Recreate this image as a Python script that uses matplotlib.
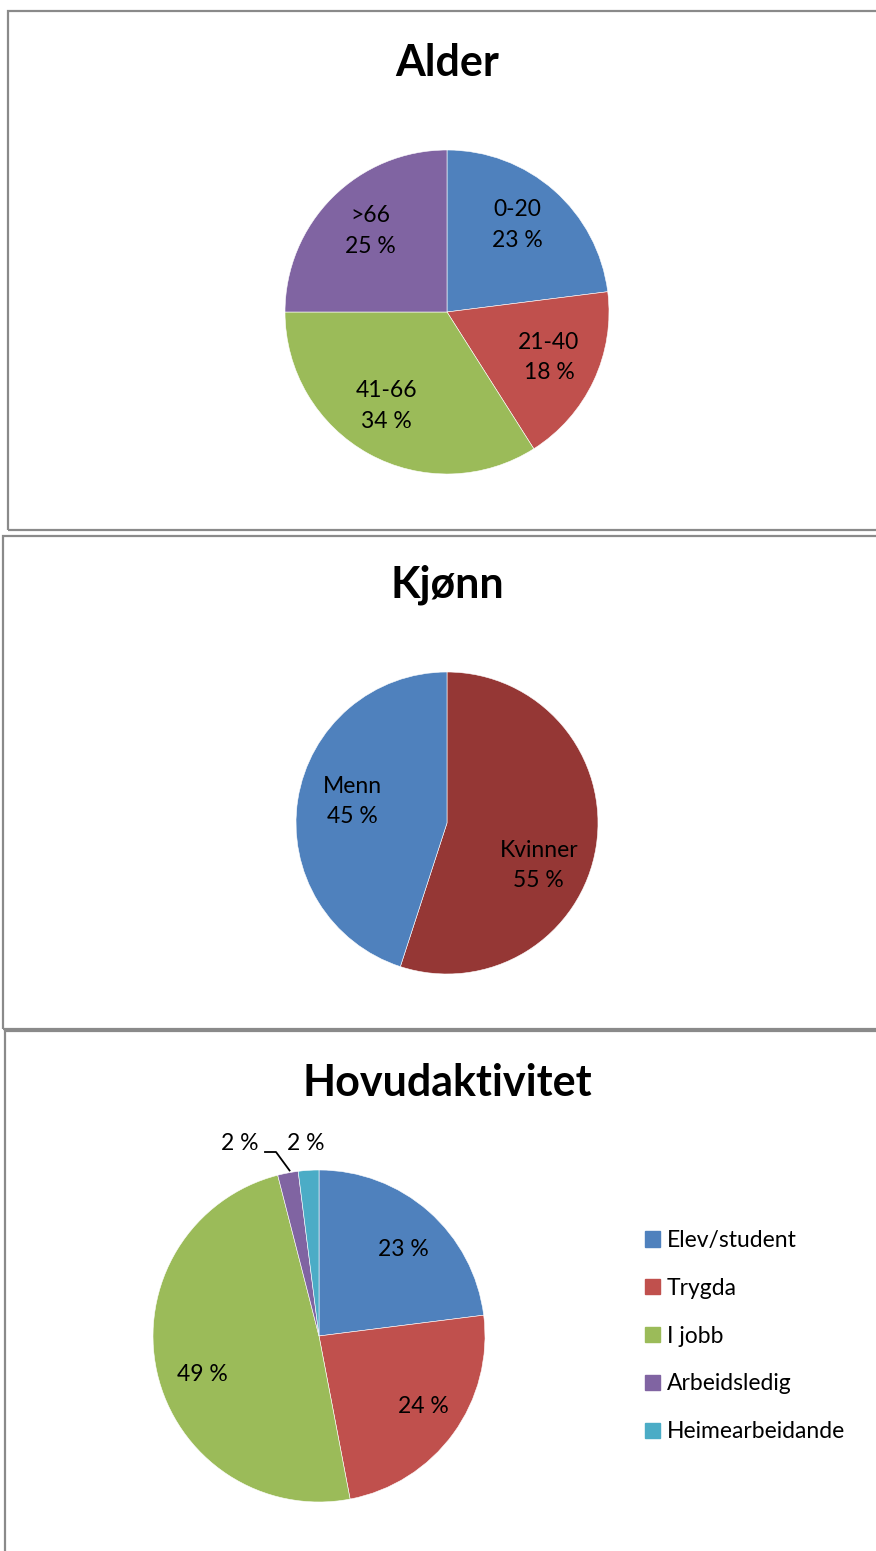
import matplotlib
matplotlib.use("Agg")
import matplotlib.pyplot as plt
from matplotlib.patches import Rectangle
import numpy as np

plt.rcParams['font.family'] = ['Lato', 'DejaVu Sans']

# ---- data ----
age_labels = ['0-20', '21-40', '41-66', '>66']
age_values = [23, 18, 34, 25]
gender_labels = ['Kvinner', 'Menn']
gender_values = [55, 45]
act_labels = ['Elev/student', 'Trygda', 'I jobb', 'Arbeidsledig', 'Heimearbeidande']
act_values = [23, 24, 49, 2, 2]

BLUE, RED, GREEN, PURPLE, CYAN, DRED = '#4F81BD', '#C0504D', '#9BBB59', '#8064A2', '#4BACC6', '#953735'

W, H = 876, 1551
fig = plt.figure(figsize=(W / 100, H / 100), dpi=100)
LFS = 16.5
TFS = 31

def px_axes(cx, cy, r):
    ax = fig.add_axes([(cx - r) / W, (H - cy - r) / H, 2 * r / W, 2 * r / H])
    return ax

def border(x0, y0, x1, y1):
    fig.patches.append(Rectangle((x0 / W, 1 - y1 / H), (x1 - x0) / W, (y1 - y0) / H,
                                 transform=fig.transFigure, fill=False,
                                 edgecolor='#8a8a8a', linewidth=1.6))

border(8, 11, 900, 530)
border(3, 536, 900, 1029)
border(5, 1031, 900, 1600)

def draw_pie(ax, vals, colors):
    wedges, _ = ax.pie(vals, colors=colors, startangle=90, counterclock=False,
                       radius=1, wedgeprops=dict(linewidth=0.4, edgecolor='white'))
    ax.set_aspect('auto')
    ax.set_xlim(-1, 1); ax.set_ylim(-1, 1); ax.axis('off')
    return wedges

def label_at(ax, wedge, text, dist, dang=0.0, **kw):
    ang = np.deg2rad((wedge.theta1 + wedge.theta2) / 2 + dang)
    ax.text(dist * np.cos(ang), dist * np.sin(ang), text, ha='center', va='center',
            fontsize=LFS, linespacing=1.55, clip_on=False, **kw)

# ---- Alder ----
fig.text(447 / W, 1 - 63 / H, 'Alder', ha='center', va='center', fontsize=TFS, fontweight='bold')
ax1 = px_axes(447, 312, 162)
w1 = draw_pie(ax1, age_values, [BLUE, RED, GREEN, PURPLE])
adj1 = [2.5, 1, -4, -1.5]
for w, lab, v, d in zip(w1, age_labels, age_values, adj1):
    label_at(ax1, w, f'{lab}\n{v} %', 0.69, d)

# ---- Kjønn ----
fig.text(447 / W, 1 - 585 / H, 'Kjønn', ha='center', va='center', fontsize=TFS, fontweight='bold')
ax2 = px_axes(447, 823, 151)
w2 = draw_pie(ax2, gender_values, [DRED, BLUE])
adj2 = [-16, -4]
dist2 = [0.67, 0.64]
for w, lab, v, d, r in zip(w2, gender_labels, gender_values, adj2, dist2):
    label_at(ax2, w, f'{lab}\n{v} %', r, d)

# ---- Hovudaktivitet ----
fig.text(447 / W, 1 - 1083 / H, 'Hovudaktivitet', ha='center', va='center', fontsize=TFS, fontweight='bold')
R3 = 166
ax3 = px_axes(319, 1336, R3)
w3 = draw_pie(ax3, act_values, [BLUE, RED, GREEN, PURPLE, CYAN])
adj3 = [-3, 2, 5.5]
dist3 = [0.73, 0.76, 0.74]
for w, v, d, r in zip(w3[:3], act_values[:3], adj3, dist3):
    label_at(ax3, w, f'{v} %', r, d)
# small slices: labels outside
ax3.text(-79 / R3, 192 / R3, f'{act_values[3]} %', ha='center', va='center', fontsize=LFS, clip_on=False)
ax3.text(-13 / R3, 192 / R3, f'{act_values[4]} %', ha='center', va='center', fontsize=LFS, clip_on=False)
mid = np.deg2rad((w3[3].theta1 + w3[3].theta2) / 2)
ex, ey = np.cos(mid) * 1.0, np.sin(mid) * 1.0
ax3.plot([-54 / R3, -43 / R3, ex + 0.01], [184 / R3, 184 / R3, ey + 0.015], color='black',
         linewidth=1.3, clip_on=False)

# legend
handles = [Rectangle((0, 0), 1, 1, color=c) for c in [BLUE, RED, GREEN, PURPLE, CYAN]]
fig.legend(handles, act_labels, loc='upper left', bbox_to_anchor=(645 / W, 1 - 1230 / H),
           frameon=False, fontsize=LFS, handlelength=0.65, handleheight=0.65,
           handletextpad=0.3, labelspacing=1.17, borderaxespad=0, borderpad=0)

fig.savefig('out.png', dpi=100, facecolor='white')
